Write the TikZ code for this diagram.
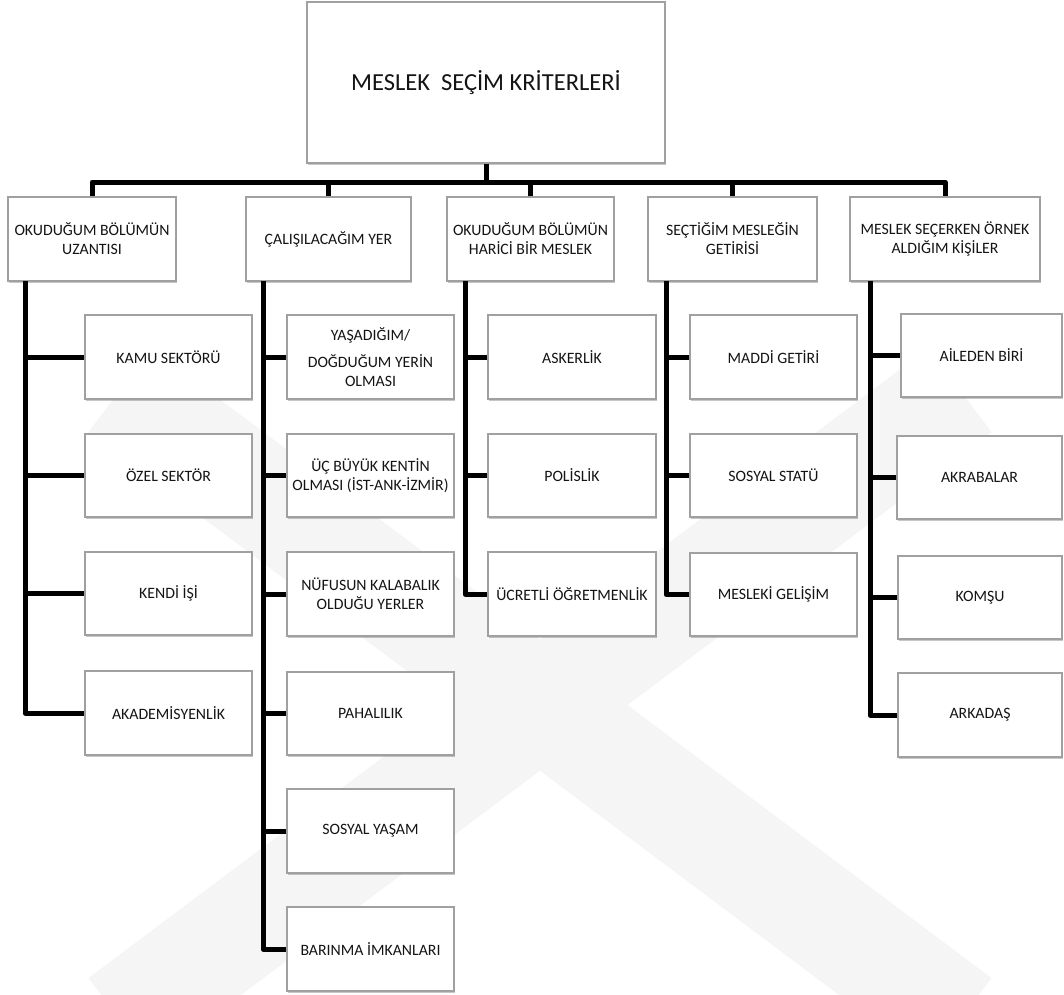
\documentclass[tikz,border=0pt]{standalone}
\usepackage{fontspec}
\setmainfont{Carlito}
\usetikzlibrary{shadows}
\definecolor{boxline}{RGB}{160,160,160}
\definecolor{ink}{RGB}{20,20,20}
\definecolor{mark}{RGB}{245,245,245}
\tikzset{
  box/.style={draw=boxline, line width=1.3pt, fill=white, inner sep=2pt,
    align=center, text=ink, font=\fontsize{15.8}{19}\selectfont,
    drop shadow={shadow xshift=1.2pt, shadow yshift=-2.2pt, opacity=0.22, fill=black}},
  topbox/.style={box, font=\fontsize{24.5}{29}\selectfont},
  link/.style={line width=5pt, draw=black, line join=round},
  wm/.style={line width=105pt, draw=mark, line cap=butt}
}
% \pbox{name}{x1}{y1}{x2}{y2}{style}{text}: box given by its corners in pixel units
\newcommand\pbox[7]{%
  \pgfmathsetmacro\bw{#4-#2}\pgfmathsetmacro\bh{#5-#3}%
  \pgfmathsetmacro\cx{(#2+#4)/2}\pgfmathsetmacro\cy{(#3+#5)/2}%
  \node[#6, minimum width=\bw pt, minimum height=\bh pt] (#1) at (\cx,\cy) {#7};}
\begin{document}
\begin{tikzpicture}[x=1pt,y=-1pt]
\useasboundingbox (0,0) rectangle (1064,994);
% faint background mark
\draw[wm] (120,390) -- (960,1020);
\draw[wm] (960,390) -- (120,1020);

% root and first level
\pbox{root}{307}{2}{665}{163}{topbox}{\raisebox{-2pt}{MESLEK\ \ SEÇİM KRİTERLERİ}}
\pbox{b1}{8}{197}{176}{281}{box}{OKUDUĞUM BÖLÜMÜN\\UZANTISI}
\pbox{b2}{246}{197}{411}{281}{box}{ÇALIŞILACAĞIM YER}
\pbox{b3}{447}{197}{614}{281}{box}{OKUDUĞUM BÖLÜMÜN\\HARİCİ BİR MESLEK}
\pbox{b4}{648}{197}{817}{281}{box}{SEÇTİĞİM MESLEĞİN\\GETİRİSİ}
\pbox{b5}{850}{197}{1040}{281}{box}{MESLEK SEÇERKEN ÖRNEK\\ALDIĞIM KİŞİLER}

% column 1
\pbox{k11}{85}{315}{252}{399}{box}{KAMU SEKTÖRÜ}
\pbox{k12}{85}{434}{252}{517}{box}{ÖZEL SEKTÖR}
\pbox{k13}{85}{552}{252}{635}{box}{KENDİ İŞİ}
\pbox{k14}{85}{671}{252}{755}{box}{AKADEMİSYENLİK}
% column 2
\pbox{k21}{287}{315}{454}{399}{box}{YAŞADIĞIM/\\[8pt]DOĞDUĞUM YERİN\\OLMASI}
\pbox{k22}{287}{434}{454}{517}{box}{ÜÇ BÜYÜK KENTİN\\OLMASI (İST-ANK-İZMİR)}
\pbox{k23}{287}{552}{454}{636}{box}{NÜFUSUN KALABALIK\\OLDUĞU YERLER}
\pbox{k24}{287}{672}{454}{755}{box}{PAHALILIK}
\pbox{k25}{287}{789}{454}{873}{box}{SOSYAL YAŞAM}
\pbox{k26}{287}{907}{454}{991}{box}{BARINMA İMKANLARI}
% column 3
\pbox{k31}{488}{315}{656}{399}{box}{ASKERLİK}
\pbox{k32}{488}{434}{656}{517}{box}{POLİSLİK}
\pbox{k33}{488}{552}{656}{636}{box}{ÜCRETLİ ÖĞRETMENLİK}
% column 4
\pbox{k41}{690}{315}{857}{399}{box}{MADDİ GETİRİ}
\pbox{k42}{690}{434}{857}{517}{box}{SOSYAL STATÜ}
\pbox{k43}{690}{553}{857}{636}{box}{MESLEKİ GELİŞİM}
% column 5
\pbox{k51}{901}{314}{1062}{397}{box}{AİLEDEN BİRİ}
\pbox{k52}{897}{436}{1062}{519}{box}{AKRABALAR}
\pbox{k53}{898}{556}{1062}{639}{box}{KOMŞU}
\pbox{k54}{898}{673}{1062}{757}{box}{ARKADAŞ}

% root to first level
\coordinate (hub) at (486,182);
\draw[link] (root.south) -- (hub);
\draw[link] (b1.north) -- (b1.north |- hub) -- (b5.north |- hub) -- (b5.north);
\foreach \n in {b2,b3,b4} \draw[link] (\n.north) -- (\n.north |- hub);

% column spines
\coordinate (v1) at (25,281);
\coordinate (v2) at (263,281);
\coordinate (v3) at (465,281);
\coordinate (v4) at (666,281);
\coordinate (v5) at (870,281);
\draw[link] (v1) |- (k14.west);
\draw[link] (v2) |- (k26.west);
\draw[link] (v3) |- (k33.west);
\draw[link] (v4) |- (k43.west);
\draw[link] (v5) |- (k54.west);
\foreach \n in {k11,k12,k13} \draw[link] (v1 |- \n.west) -- (\n.west);
\foreach \n in {k21,k22,k23,k24,k25} \draw[link] (v2 |- \n.west) -- (\n.west);
\foreach \n in {k31,k32} \draw[link] (v3 |- \n.west) -- (\n.west);
\foreach \n in {k41,k42} \draw[link] (v4 |- \n.west) -- (\n.west);
\foreach \n in {k51,k52,k53} \draw[link] (v5 |- \n.west) -- (\n.west);
\end{tikzpicture}
\end{document}
